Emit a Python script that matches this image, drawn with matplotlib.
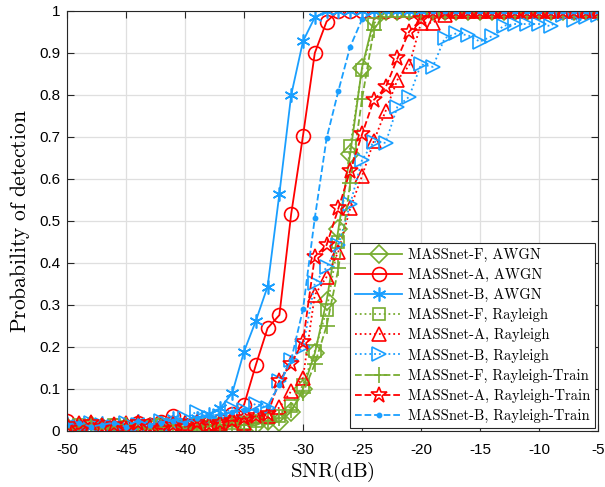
import numpy as np
import matplotlib.pyplot as plt

plt.rcParams['mathtext.fontset'] = 'cm'

# SNR grid in dB
snr = np.arange(-50, -4, 1)

# detection probability, one list per model/channel (SNR -50 ... -5)
ones_tail = lambda n: [1.0] * n

pd_f_awgn = [0.010, 0.005, 0.015, 0.010, 0.005, 0.010, 0.005, 0.010, 0.015, 0.010,
             0.005, 0.010, 0.010, 0.015, 0.010, 0.015, 0.014, 0.025, 0.022, 0.046,
             0.100, 0.185, 0.310, 0.480, 0.660, 0.865, 0.980] + ones_tail(19)
pd_a_awgn = [0.025, 0.010, 0.005, 0.010, 0.015, 0.010, 0.020, 0.015, 0.022, 0.036,
             0.015, 0.010, 0.020, 0.025, 0.040, 0.062, 0.157, 0.245, 0.276, 0.517,
             0.703, 0.900, 0.975] + ones_tail(23)
pd_b_awgn = [0.020, 0.015, 0.010, 0.020, 0.015, 0.010, 0.025, 0.015, 0.020, 0.030,
             0.025, 0.030, 0.040, 0.055, 0.090, 0.189, 0.262, 0.344, 0.565, 0.800,
             0.928, 0.985] + ones_tail(24)
pd_f_ray = [0.005, 0.015, 0.010, 0.005, 0.015, 0.010, 0.005, 0.010, 0.015, 0.005,
            0.010, 0.015, 0.010, 0.015, 0.020, 0.020, 0.025, 0.030, 0.035, 0.060,
            0.110, 0.190, 0.288, 0.450, 0.678, 0.860, 0.970] + ones_tail(19)
pd_a_ray = [0.010, 0.020, 0.005, 0.015, 0.010, 0.020, 0.010, 0.005, 0.015, 0.010,
            0.020, 0.010, 0.015, 0.020, 0.030, 0.018, 0.035, 0.035, 0.056, 0.095,
            0.127, 0.324, 0.367, 0.427, 0.530, 0.607, 0.690, 0.762, 0.836, 0.870,
            0.972, 0.972, 0.990] + ones_tail(13)
pd_b_ray = [0.015, 0.010, 0.020, 0.015, 0.010, 0.020, 0.015, 0.010, 0.025, 0.015,
            0.030, 0.046, 0.030, 0.035, 0.055, 0.050, 0.065, 0.055, 0.118, 0.170,
            0.200, 0.352, 0.390, 0.443, 0.540, 0.645, 0.689, 0.686, 0.772, 0.796,
            0.873, 0.867, 0.935, 0.947, 0.942, 0.927, 0.940, 0.965, 0.969, 0.969,
            0.969, 0.964, 0.990, 0.978, 0.985, 0.990]
pd_f_train = [0.005, 0.010, 0.015, 0.005, 0.010, 0.015, 0.010, 0.005, 0.010, 0.015,
              0.010, 0.005, 0.015, 0.010, 0.020, 0.015, 0.020, 0.025, 0.030, 0.050,
              0.090, 0.160, 0.250, 0.387, 0.590, 0.790, 0.955] + ones_tail(19)
pd_a_train = [0.015, 0.005, 0.020, 0.010, 0.015, 0.005, 0.020, 0.010, 0.005, 0.015,
              0.010, 0.020, 0.015, 0.020, 0.025, 0.030, 0.035, 0.040, 0.120, 0.160,
              0.213, 0.415, 0.443, 0.530, 0.620, 0.706, 0.788, 0.818, 0.887, 0.951,
              0.980] + ones_tail(15)
pd_b_train = [0.015, 0.020, 0.010, 0.015, 0.020, 0.010, 0.025, 0.015, 0.020, 0.025,
              0.020, 0.030, 0.035, 0.040, 0.045, 0.050, 0.050, 0.060, 0.110, 0.170,
              0.290, 0.507, 0.697, 0.810, 0.915, 0.980] + ones_tail(20)

green = '#77AC30'
red = '#FF0000'
blue = '#1A9FFF'

series = [
    (pd_f_awgn, green, '-', 'D', 'MASSnet-F, AWGN'),
    (pd_a_awgn, red, '-', 'o', 'MASSnet-A, AWGN'),
    (pd_b_awgn, blue, '-', (6, 2, 0), 'MASSnet-B, AWGN'),
    (pd_f_ray, green, ':', 's', 'MASSnet-F, Rayleigh'),
    (pd_a_ray, red, ':', '^', 'MASSnet-A, Rayleigh'),
    (pd_b_ray, blue, ':', '>', 'MASSnet-B, Rayleigh'),
    (pd_f_train, green, '--', '+', 'MASSnet-F, Rayleigh-Train'),
    (pd_a_train, red, '--', '*', 'MASSnet-A, Rayleigh-Train'),
    (pd_b_train, blue, '--', '.', 'MASSnet-B, Rayleigh-Train'),
]

sizes = {'D': 9, 'o': 10, 's': 8, '^': 10, '>': 10, '+': 11, '*': 12, '.': 6}

fig = plt.figure(figsize=(6.05, 4.87), dpi=100)
ax = fig.add_axes([67 / 605, 56 / 487, 531 / 605, 420 / 487])

for y, c, ls, m, lab in series:
    ms = sizes.get(m, 10) if isinstance(m, str) else 10
    ax.plot(snr, y, color=c, linestyle=ls, marker=m, markersize=ms,
            markerfacecolor='none' if m != '.' else c,
            markeredgewidth=1.2, linewidth=1.3, label=lab)

ax.set_xlim(-50, -5)
ax.set_ylim(0, 1)
ax.set_xticks(np.arange(-50, -4, 5))
ax.set_yticks(np.arange(0, 1.01, 0.1))
ax.set_yticklabels(['0'] + ['%.1f' % v for v in np.arange(0.1, 0.95, 0.1)] + ['1'])
ax.set_xticklabels(['-%d' % abs(v) for v in range(-50, -4, 5)])
ax.tick_params(direction='in', length=5, labelsize=11, top=True, right=True,
               color='#262626')
ax.tick_params(axis='x', pad=9)
ax.tick_params(axis='y', pad=5)
for lbl in ax.get_xticklabels() + ax.get_yticklabels():
    lbl.set_family('Liberation Sans')
ax.grid(True, color='#DFDFDF', linewidth=0.9)
ax.set_axisbelow(True)
for s in ax.spines.values():
    s.set_color('#262626')
    s.set_linewidth(0.8)

ax.set_xlabel(r'$\mathrm{SNR(dB)}$', fontsize=15, labelpad=2)
ax.set_ylabel(r'$\mathrm{Probability\ of\ detection}$', fontsize=15.5, labelpad=5)

leg = ax.legend(loc='lower right', prop={'family': 'cmr10', 'size': 10.5},
                fancybox=False, framealpha=1, edgecolor='#262626',
                borderaxespad=0.2, handlelength=3.2, labelspacing=0.42,
                borderpad=0.35, handletextpad=0.4)
leg.get_frame().set_linewidth(0.8)

fig.savefig('out.png', dpi=100)
